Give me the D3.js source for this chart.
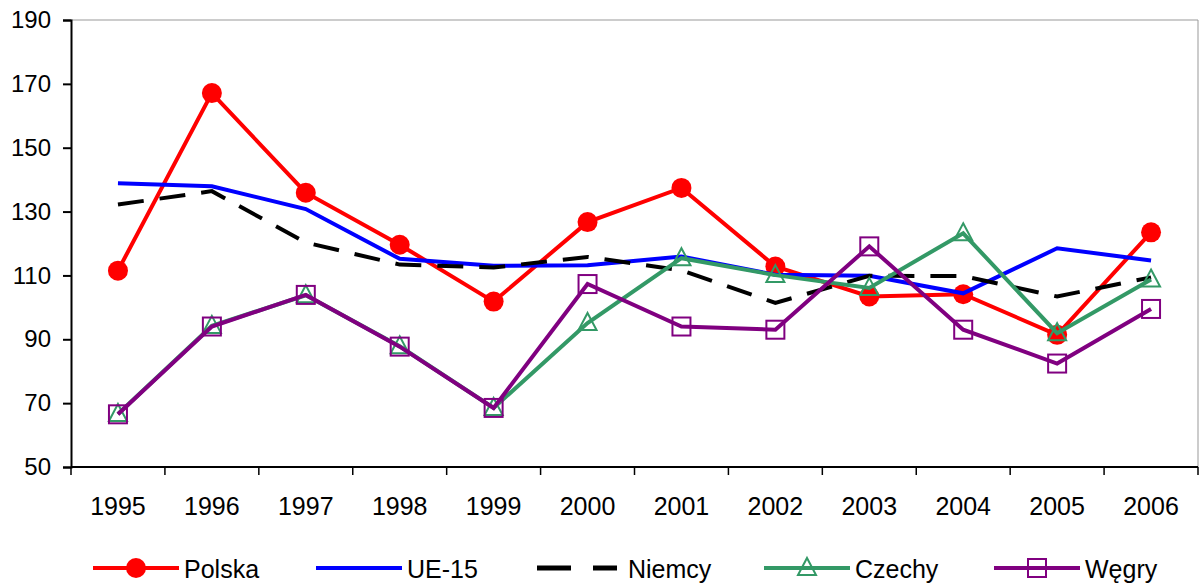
<html>
<head>
<meta charset="UTF-8">
<title>Chart</title>
<style>
  body { margin: 0; background: #fff; }
  text { font-family: "Liberation Sans", Arial, sans-serif; fill: #000; }
</style>
</head>
<body>
<div id="chart"></div>
<script src="https://cdnjs.cloudflare.com/ajax/libs/d3/7.8.5/d3.min.js"></script>
<script>
// data
var years = ["1995","1996","1997","1998","1999","2000","2001","2002","2003","2004","2005","2006"];
var polska = [111.5, 167.1, 135.9, 119.6, 101.8, 126.7, 137.4, 112.8, 103.4, 104.1, 91.4, 123.5];
var ue15   = [138.9, 137.9, 130.8, 115.2, 113.0, 113.2, 115.9, 110.2, 109.9, 104.4, 118.5, 114.7];
var niemcy = [132.2, 136.4, 120.3, 113.4, 112.5, 115.8, 111.6, 101.4, 109.9, 109.8, 103.4, 109.4];
var czechy = [66.6, 94.2, 103.8, 87.8, 68.5, 95.1, 115.4, 110.1, 106.1, 123.2, 91.9, 108.7];
var wegry  = [66.5, 94.0, 103.9, 87.7, 68.5, 107.3, 94.0, 93.0, 119.1, 93.0, 82.4, 99.5];
var yTicks = [50, 70, 90, 110, 130, 150, 170, 190];

var series = [
  {name: "Polska", values: polska, color: "#ff0000", marker: "circle"},
  {name: "UE-15",  values: ue15,   color: "#0000ff", marker: "none"},
  {name: "Niemcy", values: niemcy, color: "#000000", marker: "none", dash: "26,16"},
  {name: "Czechy", values: czechy, color: "#339966", marker: "triangle"},
  {name: "Węgry",  values: wegry,  color: "#800080", marker: "square"}
];

var width = 1199, height = 587;
var plotLeft = 71, plotRight = 1198, plotTop = 20, plotBottom = 467;

var svg = d3.select("#chart").append("svg")
    .attr("width", width)
    .attr("height", height);

var x = d3.scaleBand().domain(years).range([plotLeft, plotRight]);
var y = d3.scaleLinear().domain([50, 190]).range([plotBottom, plotTop]);

// thin frame at top and right
svg.append("path")
    .attr("d", "M" + plotLeft + "," + plotTop + "H" + plotRight + "V" + plotBottom)
    .attr("fill", "none")
    .attr("stroke", "#999")
    .attr("stroke-width", 1);

// y axis
var yAxis = svg.append("g")
    .attr("transform", "translate(" + plotLeft + ",0)")
    .call(d3.axisLeft(y).tickValues(yTicks).tickSize(8).tickPadding(12).tickFormat(d3.format("d")));
yAxis.select(".domain").attr("stroke", "#000").attr("stroke-width", 2);
yAxis.selectAll(".tick line").attr("stroke", "#000").attr("stroke-width", 2);
yAxis.selectAll("text").style("font-size", "24px").attr("fill", "#000")
    .style("font-family", "'Liberation Sans', Arial, sans-serif");

// x axis: ticks between categories
var xAxisG = svg.append("g")
    .attr("transform", "translate(0," + plotBottom + ")");
xAxisG.append("line")
    .attr("x1", plotLeft).attr("x2", plotRight)
    .attr("stroke", "#000").attr("stroke-width", 2);
var bounds = years.map(function(d) { return x(d); }).concat([plotRight]);
xAxisG.selectAll(".xt").data(bounds).enter().append("line")
    .attr("x1", function(d) { return d; })
    .attr("x2", function(d) { return d; })
    .attr("y1", 0).attr("y2", 8)
    .attr("stroke", "#000").attr("stroke-width", 1.5);
xAxisG.selectAll(".xl").data(years).enter().append("text")
    .attr("x", function(d) { return x(d) + x.bandwidth() / 2; })
    .attr("y", 48)
    .attr("text-anchor", "middle")
    .style("font-size", "25px")
    .text(function(d) { return d; });

var line = d3.line()
    .x(function(d, i) { return x(years[i]) + x.bandwidth() / 2; })
    .y(function(d) { return y(d); });

function drawMarker(g, type, color, cx, cy) {
  if (type == "circle") {
    g.append("circle").attr("cx", cx).attr("cy", cy).attr("r", 10).attr("fill", color);
  } else if (type == "triangle") {
    g.append("path")
      .attr("d", "M" + cx + "," + (cy - 10) + "L" + (cx + 9) + "," + (cy + 7) + "L" + (cx - 9) + "," + (cy + 7) + "Z")
      .attr("fill", "none").attr("stroke", color).attr("stroke-width", 2);
  } else if (type == "square") {
    g.append("rect").attr("x", cx - 9).attr("y", cy - 9).attr("width", 18).attr("height", 18)
      .attr("fill", "none").attr("stroke", color).attr("stroke-width", 2);
  }
}

series.forEach(function(s) {
  var g = svg.append("g");
  g.append("path")
    .datum(s.values)
    .attr("d", line)
    .attr("fill", "none")
    .attr("stroke", s.color)
    .attr("stroke-width", 4)
    .attr("stroke-dasharray", s.dash || null);
  s.values.forEach(function(v, i) {
    drawMarker(g, s.marker, s.color, x(years[i]) + x.bandwidth() / 2, y(v));
  });
});

// legend
var legendX = [93, 316, 537, 764, 994];
var ly = 568;
series.forEach(function(s, i) {
  var g = svg.append("g");
  var x0 = legendX[i], x1 = x0 + 86;
  if (s.dash) {
    g.append("line").attr("x1", x0 + 0).attr("x2", x0 + 34).attr("y1", ly).attr("y2", ly)
      .attr("stroke", s.color).attr("stroke-width", 5);
    g.append("line").attr("x1", x0 + 56).attr("x2", x0 + 80).attr("y1", ly).attr("y2", ly)
      .attr("stroke", s.color).attr("stroke-width", 5);
  } else {
    g.append("line").attr("x1", x0).attr("x2", x1).attr("y1", ly).attr("y2", ly)
      .attr("stroke", s.color).attr("stroke-width", 4);
  }
  drawMarker(g, s.marker, s.color, x0 + 43, ly);
  g.append("text")
    .attr("x", x1 + 5)
    .attr("y", 578)
    .style("font-size", "25px")
    .text(s.name);
});
</script>
</body>
</html>
